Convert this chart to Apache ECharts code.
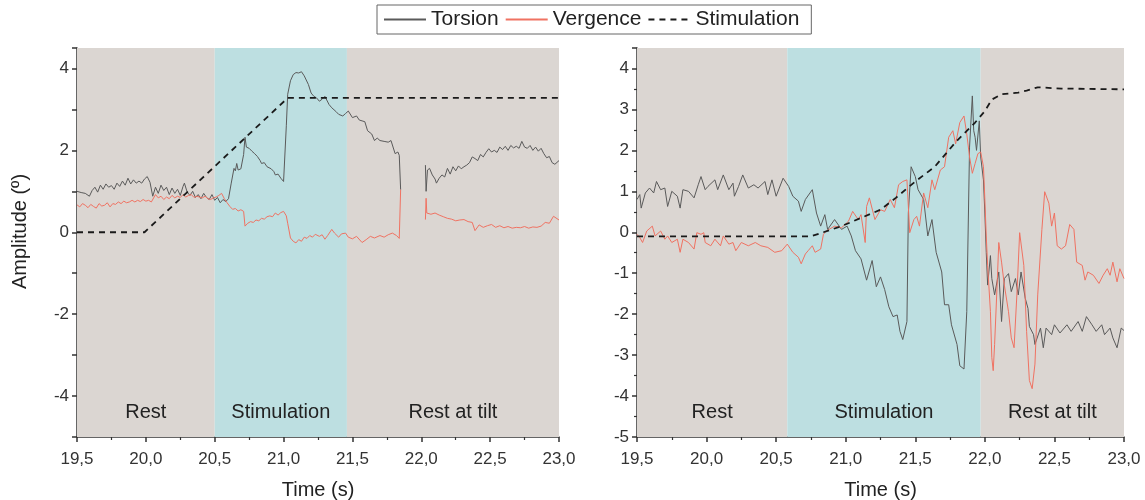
<!DOCTYPE html>
<html>
<head>
<meta charset="utf-8">
<script src="https://cdn.jsdelivr.net/npm/echarts@6/dist/echarts.min.js"></script>
<style>
  html, body { margin: 0; padding: 0; background: #fff; }
  #chart { width: 1145px; height: 500px; }
</style>
</head>
<body>
<div id="chart"></div>
<script>
// phases (s)
var phaseNames = ['Rest', 'Stimulation', 'Rest at tilt'];
var visPhaseBounds = [19.5, 20.5, 21.46, 23.0];
var vesPhaseBounds = [19.5, 20.58, 21.97, 23.0];

// A) VIS  [time, amplitude]
var visTorsion = [
  [19.50,1.00],[19.53,0.97],[19.56,0.95],[19.59,0.88],[19.61,1.02],[19.63,1.10],[19.65,0.98],[19.67,1.15],
  [19.69,1.05],[19.71,1.18],[19.73,1.10],[19.75,1.14],[19.77,1.05],[19.79,1.20],[19.81,1.12],[19.83,1.25],
  [19.85,1.15],[19.87,1.32],[19.89,1.18],[19.91,1.28],[19.93,1.20],[19.95,1.25],[19.97,1.20],[19.99,1.30],
  [20.01,1.36],[20.03,1.22],[20.05,0.88],[20.07,1.10],[20.09,0.95],[20.11,1.15],[20.13,1.02],[20.15,1.10],
  [20.17,0.92],[20.19,1.08],[20.21,0.95],[20.23,1.05],[20.25,0.90],[20.27,1.12],[20.28,1.20],[20.30,0.98],
  [20.32,0.90],[20.34,1.00],[20.36,0.85],[20.38,0.92],[20.40,0.82],[20.42,0.95],[20.44,0.85],[20.46,0.80],
  [20.48,0.92],[20.50,0.78],[20.52,0.85],[20.54,0.72],[20.56,0.80],[20.58,0.75],[20.60,0.82],[20.61,0.80],
  [20.62,1.20],[20.64,1.56],[20.65,1.50],[20.66,1.68],[20.67,1.52],[20.69,1.55],[20.71,1.90],[20.72,2.32],
  [20.73,2.08],[20.75,2.05],[20.77,1.98],[20.79,1.92],[20.81,1.85],[20.83,1.75],[20.84,1.68],[20.86,1.70],
  [20.88,1.60],[20.89,1.62],[20.91,1.55],[20.93,1.48],[20.94,1.40],[20.96,1.42],[20.98,1.32],[20.99,1.28],
  [21.00,1.24],[21.02,2.60],[21.03,3.37],[21.05,3.70],[21.07,3.85],[21.09,3.90],[21.11,3.89],[21.13,3.92],
  [21.15,3.82],[21.16,3.81],[21.18,3.61],[21.20,3.40],[21.22,3.32],[21.24,3.28],[21.26,3.20],[21.28,3.25],
  [21.30,3.32],[21.33,3.12],[21.35,3.04],[21.38,2.95],[21.40,2.88],[21.43,2.84],[21.45,2.90],[21.47,2.96],
  [21.50,2.80],[21.53,2.84],[21.55,2.74],[21.57,2.72],[21.59,2.70],[21.61,2.48],[21.64,2.40],[21.66,2.24],
  [21.68,2.30],[21.70,2.24],[21.73,2.22],[21.76,2.20],[21.78,2.24],[21.81,1.92],[21.83,1.96],[21.84,1.88],
  [21.85,1.04],[21.94,'-'],
  [22.03,1.64],[22.035,1.00],[22.045,1.52],[22.06,1.56],[22.08,1.40],[22.10,1.30],[22.11,1.20],[22.13,1.32],
  [22.15,1.40],[22.17,1.35],[22.19,1.56],[22.21,1.42],[22.23,1.60],[22.25,1.50],[22.27,1.62],[22.29,1.55],
  [22.31,1.60],[22.33,1.64],[22.35,1.70],[22.37,1.84],[22.39,1.80],[22.41,1.75],[22.43,1.90],[22.45,1.84],
  [22.47,1.95],[22.49,2.04],[22.51,1.96],[22.53,2.00],[22.55,1.95],[22.57,2.08],[22.59,2.02],[22.61,2.10],
  [22.63,2.00],[22.65,2.12],[22.67,2.06],[22.69,2.10],[22.71,2.05],[22.73,2.22],[22.75,2.08],[22.77,2.05],
  [22.79,2.12],[22.81,2.00],[22.83,2.08],[22.85,1.98],[22.87,2.05],[22.89,1.92],[22.91,1.82],[22.93,1.85],
  [22.95,1.70],[22.97,1.66],[23.00,1.75]
];
var visVergence = [
  [19.50,0.67],[19.52,0.62],[19.54,0.70],[19.56,0.66],[19.58,0.60],[19.60,0.68],[19.62,0.63],[19.64,0.59],
  [19.66,0.70],[19.68,0.64],[19.70,0.66],[19.72,0.72],[19.74,0.62],[19.76,0.70],[19.78,0.68],[19.80,0.74],
  [19.82,0.70],[19.84,0.76],[19.86,0.72],[19.88,0.74],[19.90,0.78],[19.92,0.74],[19.94,0.78],[19.96,0.75],
  [19.98,0.80],[20.00,0.76],[20.02,0.78],[20.04,0.74],[20.06,0.86],[20.07,0.92],[20.09,0.84],[20.11,0.88],
  [20.13,0.80],[20.15,0.86],[20.17,0.82],[20.19,0.90],[20.21,0.84],[20.23,0.88],[20.25,0.85],[20.27,0.92],
  [20.29,0.86],[20.31,0.90],[20.33,0.92],[20.35,0.85],[20.37,0.88],[20.39,0.86],[20.41,0.84],[20.43,0.88],
  [20.45,0.82],[20.47,0.80],[20.49,0.84],[20.51,0.86],[20.53,0.90],[20.55,0.95],[20.57,0.82],[20.59,0.72],
  [20.61,0.63],[20.63,0.56],[20.65,0.58],[20.67,0.52],[20.69,0.55],[20.71,0.51],[20.72,0.15],[20.74,0.22],
  [20.76,0.26],[20.78,0.24],[20.80,0.30],[20.82,0.28],[20.84,0.34],[20.86,0.32],[20.88,0.38],[20.90,0.40],
  [20.92,0.38],[20.94,0.47],[20.96,0.42],[20.98,0.48],[21.00,0.51],[21.02,0.40],[21.03,0.22],[21.05,-0.14],
  [21.07,-0.22],[21.09,-0.26],[21.11,-0.18],[21.13,-0.22],[21.15,-0.12],[21.17,-0.15],[21.19,-0.08],[21.21,-0.12],
  [21.23,-0.05],[21.26,-0.10],[21.28,-0.06],[21.30,-0.17],[21.32,-0.08],[21.35,0.07],[21.37,-0.02],[21.40,-0.12],
  [21.42,-0.04],[21.45,-0.02],[21.47,-0.12],[21.50,-0.16],[21.53,-0.10],[21.57,-0.25],[21.60,-0.18],[21.63,-0.10],
  [21.66,-0.14],[21.70,-0.08],[21.73,-0.12],[21.76,-0.06],[21.79,-0.02],[21.82,-0.08],[21.84,-0.15],[21.85,1.04],
  [21.94,'-'],
  [22.03,0.31],[22.035,0.83],[22.04,0.47],[22.07,0.44],[22.10,0.47],[22.13,0.42],[22.16,0.38],[22.19,0.34],
  [22.22,0.32],[22.25,0.28],[22.28,0.30],[22.31,0.31],[22.34,0.26],[22.37,0.24],[22.39,0.04],[22.42,0.18],
  [22.45,0.12],[22.48,0.16],[22.51,0.19],[22.54,0.12],[22.57,0.16],[22.60,0.11],[22.63,0.14],[22.66,0.10],
  [22.69,0.12],[22.72,0.11],[22.75,0.14],[22.78,0.10],[22.81,0.13],[22.84,0.12],[22.87,0.15],[22.90,0.24],
  [22.93,0.22],[22.96,0.39],[23.00,0.30]
];
var visStimulation = [[19.5,0],[19.99,0],[21.03,3.28],[23.0,3.28]];

// B) VES  [time, amplitude]
var vesTorsion = [
  [19.50,0.80],[19.52,0.92],[19.53,0.59],[19.56,0.96],[19.59,1.08],[19.62,0.96],[19.64,1.24],[19.67,1.04],
  [19.70,1.08],[19.72,0.63],[19.75,1.00],[19.79,0.88],[19.81,0.59],[19.83,1.04],[19.87,1.00],[19.91,0.84],
  [19.94,1.16],[19.96,1.36],[19.99,1.04],[20.01,1.12],[20.06,1.28],[20.08,1.04],[20.12,1.40],[20.16,1.04],
  [20.19,1.20],[20.20,0.88],[20.23,1.12],[20.26,1.40],[20.30,1.08],[20.34,1.16],[20.37,1.08],[20.42,1.24],
  [20.44,0.92],[20.47,1.28],[20.50,0.88],[20.55,1.32],[20.59,1.12],[20.62,0.88],[20.66,0.76],[20.68,0.51],
  [20.71,0.80],[20.76,1.04],[20.79,0.47],[20.82,0.15],[20.85,0.43],[20.87,0.07],[20.92,0.31],[20.97,0.07],
  [21.01,0.15],[21.04,-0.09],[21.07,-0.45],[21.11,-0.65],[21.15,-1.17],[21.19,-0.69],[21.22,-1.33],[21.25,-1.09],
  [21.28,-1.40],[21.31,-1.82],[21.34,-2.06],[21.37,-2.02],[21.39,-2.42],[21.41,-2.62],[21.44,-2.18],[21.45,0.47],
  [21.47,1.60],[21.50,1.36],[21.52,1.04],[21.56,0.80],[21.59,-0.09],[21.62,0.31],[21.65,-0.49],[21.69,-0.97],
  [21.71,-1.77],[21.74,-1.77],[21.76,-2.26],[21.80,-2.74],[21.82,-3.26],[21.85,-3.34],[21.87,-1.94],[21.89,2.08],
  [21.91,3.33],[21.92,2.48],[21.93,2.32],[21.94,2.00],[21.96,2.72],[21.97,1.84],[21.99,1.28],[22.00,0.47],
  [22.01,-0.49],[22.02,-1.29],[22.04,-0.57],[22.05,-1.13],[22.07,-1.53],[22.10,-0.97],[22.12,-2.18],[22.14,-1.13],
  [22.17,-1.01],[22.19,-1.45],[22.22,-1.13],[22.24,-1.53],[22.26,-0.97],[22.29,-1.61],[22.31,-1.86],[22.32,-2.30],
  [22.35,-2.50],[22.36,-2.74],[22.40,-2.34],[22.42,-2.82],[22.44,-2.34],[22.48,-2.50],[22.50,-2.26],[22.54,-2.46],
  [22.59,-2.26],[22.62,-2.42],[22.67,-2.18],[22.70,-2.42],[22.73,-2.06],[22.77,-2.26],[22.80,-2.42],[22.84,-2.26],
  [22.86,-2.50],[22.90,-2.34],[22.92,-2.58],[22.95,-2.82],[22.98,-2.34],[23.00,-2.40]
];
var vesVergence = [
  [19.50,-0.05],[19.52,-0.13],[19.54,-0.25],[19.57,0.03],[19.61,0.15],[19.63,-0.09],[19.67,0.03],[19.70,-0.17],
  [19.72,-0.09],[19.75,-0.25],[19.79,-0.17],[19.81,-0.49],[19.83,-0.17],[19.87,-0.25],[19.91,-0.41],[19.93,-0.01],
  [19.96,-0.05],[19.98,-0.01],[19.99,-0.25],[20.03,-0.33],[20.06,-0.17],[20.10,-0.33],[20.12,-0.09],[20.16,-0.29],
  [20.19,-0.25],[20.21,-0.45],[20.25,-0.25],[20.30,-0.33],[20.35,-0.25],[20.39,-0.33],[20.44,-0.37],[20.49,-0.49],
  [20.54,-0.45],[20.58,-0.29],[20.62,-0.49],[20.66,-0.61],[20.68,-0.77],[20.71,-0.53],[20.73,-0.45],[20.76,-0.33],
  [20.78,-0.49],[20.82,-0.41],[20.84,-0.05],[20.86,0.03],[20.92,0.15],[20.97,0.11],[21.02,0.27],[21.05,0.51],
  [21.09,0.31],[21.11,0.43],[21.14,-0.25],[21.15,0.63],[21.17,0.84],[21.21,0.31],[21.25,0.55],[21.28,0.51],
  [21.32,0.80],[21.35,0.60],[21.38,1.16],[21.41,1.24],[21.44,1.28],[21.46,-0.01],[21.49,0.31],[21.51,0.39],
  [21.53,0.15],[21.56,0.96],[21.59,0.60],[21.62,1.28],[21.64,1.04],[21.68,1.52],[21.71,1.60],[21.74,2.32],
  [21.77,2.48],[21.79,2.16],[21.82,2.68],[21.85,2.84],[21.87,2.40],[21.89,1.84],[21.91,1.44],[21.93,1.68],
  [21.95,1.92],[21.97,1.96],[21.99,1.60],[22.00,0.80],[22.01,-0.09],[22.02,-0.81],[22.04,-1.94],[22.05,-3.06],
  [22.06,-3.38],[22.07,-2.74],[22.09,-1.13],[22.10,-0.25],[22.12,-0.73],[22.14,-1.29],[22.17,-1.94],[22.19,-2.58],
  [22.21,-2.82],[22.23,-1.53],[22.25,-0.01],[22.28,-0.81],[22.30,-2.42],[22.32,-3.62],[22.34,-3.82],[22.36,-3.22],
  [22.38,-1.53],[22.41,0.07],[22.43,0.99],[22.46,0.71],[22.48,0.15],[22.50,0.47],[22.52,-0.33],[22.55,-0.41],
  [22.58,-0.33],[22.61,0.19],[22.64,0.07],[22.66,-0.73],[22.70,-0.81],[22.72,-1.17],[22.74,-0.97],[22.78,-1.05],
  [22.82,-1.25],[22.85,-1.05],[22.88,-0.89],[22.90,-1.05],[22.92,-0.73],[22.95,-1.21],[22.97,-0.89],[23.00,-1.13]
];
var vesStimulation = [
  [19.5,-0.1],[20.75,-0.1],[20.84,0.0],[20.97,0.15],[21.11,0.35],[21.25,0.55],[21.36,0.84],[21.5,1.24],
  [21.64,1.6],[21.79,2.2],[21.93,2.68],[22.0,2.96],[22.05,3.24],[22.12,3.37],[22.24,3.41],[22.3,3.46],
  [22.38,3.54],[22.55,3.51],[23.0,3.49]
];

var yMin = -5, yMax = 4.5;
var restColor = '#dbd6d2';
var stimColor = '#bddfe1';
var textFont = 'Liberation Sans, Arial, sans-serif';

function bands(bounds) {
    var arr = [];
    for (var i = 0; i < phaseNames.length; i++) {
        arr.push([
            { xAxis: bounds[i], yAxis: yMin, name: phaseNames[i], itemStyle: { color: i == 1 ? stimColor : restColor } },
            { xAxis: bounds[i + 1], yAxis: yMax }
        ]);
    }
    return arr;
}

function xAxisOpt(idx) {
    return {
        type: 'value', gridIndex: idx, min: 19.5, max: 23.0, interval: 0.5,
        name: 'Time (s)', nameLocation: 'middle', nameGap: 43,
        nameTextStyle: { fontSize: 20, color: '#222', fontFamily: textFont },
        axisLine: { onZero: false, lineStyle: { color: '#333', width: 1.5 } },
        axisTick: { length: 5, lineStyle: { color: '#333', width: 1.5 } },
        minorTick: { show: true, splitNumber: 2, length: 3, lineStyle: { color: '#333', width: 1.2 } },
        splitLine: { show: false },
        axisLabel: {
            fontSize: 17, color: '#333', fontFamily: textFont, margin: 14,
            formatter: function (v) { return v.toFixed(1).replace('.', ','); }
        }
    };
}

function yAxisOpt(idx, evenOnly) {
    var o = {
        type: 'value', gridIndex: idx, min: yMin, max: yMax, interval: 1,
        axisLine: { show: true, onZero: false, lineStyle: { color: '#333', width: 1.5 } },
        axisTick: { show: true, length: 5, lineStyle: { color: '#333', width: 1.5 } },
        splitLine: { show: false },
        axisLabel: {
            fontSize: 17, color: '#333', fontFamily: textFont, margin: 8,
            formatter: function (v) {
                if (v != Math.round(v)) return '';
                if (evenOnly && v % 2 != 0) return '';
                return String(v);
            }
        }
    };
    if (!evenOnly) {
        o.minorTick = { show: true, splitNumber: 2, length: 3, lineStyle: { color: '#333', width: 1.2 } };
    } else {
        o.name = 'Amplitude (º)';
        o.nameLocation = 'middle';
        o.nameGap = 47;
        o.nameTextStyle = { fontSize: 20, color: '#222', fontFamily: textFont, padding: [0, 0, 0, 22] };
    }
    return o;
}

function bgSeries(idx, bounds) {
    return {
        type: 'scatter', xAxisIndex: idx, yAxisIndex: idx, data: [], z: 1, silent: true,
        markArea: {
            silent: true,
            label: {
                show: true, position: 'insideBottom', distance: 15,
                fontSize: 20, color: '#222', fontFamily: textFont
            },
            data: bands(bounds)
        }
    };
}

function lineSeries(name, idx, data, color, dashed) {
    return {
        name: name, type: 'line', xAxisIndex: idx, yAxisIndex: idx, data: data, z: 3,
        symbol: 'none', showSymbol: false, connectNulls: false,
        lineStyle: dashed ? { color: color, width: 1.8, type: [6, 5] } : { color: color, width: 1 },
        itemStyle: { color: color }
    };
}

var myChart = echarts.init(document.getElementById('chart'));
var option = {
    animation: false,
    backgroundColor: '#fff',
    legend: {
        data: ['Torsion', 'Vergence', 'Stimulation'],
        top: 5, left: 377,
        itemWidth: 42, itemHeight: 10, itemGap: 6,
        padding: [4, 12, 4, 6],
        borderColor: '#666', borderWidth: 1,
        itemStyle: { opacity: 0 },
        textStyle: { fontSize: 21, color: '#222', fontFamily: textFont }
    },
    grid: [
        { left: 77, top: 48, width: 482, height: 389, outerBoundsMode: 'none' },
        { left: 637, top: 48, width: 487, height: 389, outerBoundsMode: 'none' }
    ],
    xAxis: [xAxisOpt(0), xAxisOpt(1)],
    yAxis: [yAxisOpt(0, true), yAxisOpt(1, false)],
    graphic: [
        { type: 'text', left: 85, top: 56, style: { text: 'A) VIS', fontSize: 20, fill: '#222', fontFamily: textFont } },
        { type: 'text', left: 645, top: 56, style: { text: 'B) VES', fontSize: 20, fill: '#222', fontFamily: textFont } }
    ],
    series: [
        bgSeries(0, visPhaseBounds),
        bgSeries(1, vesPhaseBounds),
        lineSeries('Torsion', 0, visTorsion, '#5a5a5a', false),
        lineSeries('Vergence', 0, visVergence, '#f07262', false),
        lineSeries('Stimulation', 0, visStimulation, '#1a1a1a', true),
        lineSeries('Torsion', 1, vesTorsion, '#5a5a5a', false),
        lineSeries('Vergence', 1, vesVergence, '#f07262', false),
        lineSeries('Stimulation', 1, vesStimulation, '#1a1a1a', true)
    ]
};
myChart.setOption(option);
</script>
</body>
</html>
